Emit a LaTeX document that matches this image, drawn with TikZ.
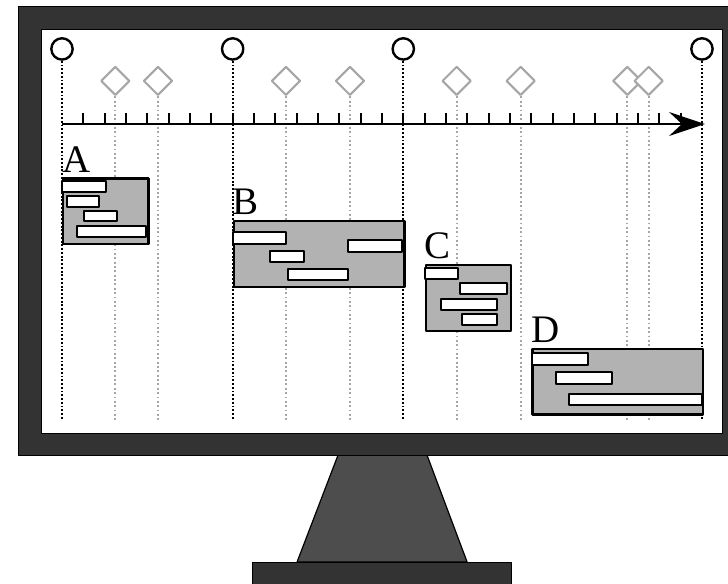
\documentclass[tikz,border=0pt]{standalone}
\usepackage{fontspec}
\setmainfont{Liberation Serif}
\usetikzlibrary{arrows.meta,shapes.geometric,positioning}
\definecolor{framegray}{HTML}{333333}
\definecolor{standgray}{HTML}{4D4D4D}

\begin{document}
\begin{tikzpicture}[x=0.5cm,y=0.5cm,line join=round,
  >={Stealth[length=0.84cm,width=0.56cm,inset=0.3cm]},
  milestone/.style={circle,draw,line width=1.6pt,fill=white,minimum size=0.5cm,inner sep=0},
  event/.style={diamond,draw=gray!70,line width=1.4pt,fill=white,minimum size=0.68cm,inner sep=0},
  keyline/.style={line width=1.4pt,dash pattern=on 1.2pt off 1.3pt},
  subline/.style={gray!70,line width=1.3pt,dash pattern=on 1.2pt off 1.7pt},
  phase/.style={draw,line width=1.5pt,fill=gray!60,anchor=north west,inner sep=0,minimum height=1.54cm},
  task/.style={draw,line width=1.4pt,fill=white},
  phasename/.style={font=\fontsize{26}{30}\selectfont,inner sep=0}]
\clip (-2.906,-21.52) rectangle (31.22,5.813);
\draw[fill=standgray,line width=0.8pt] (12.94,-15.52) -- (17.11,-15.52) -- (18.99,-20.53) -- (11.02,-20.53) -- cycle;
\draw[fill=framegray,line width=0.6pt] (8.95,-20.53) rectangle (21.05,-22);
\draw[fill=framegray,line width=0.6pt] (-2.02,-15.52) rectangle (32,5.53);
\draw[fill=white,line width=0.6pt] (-0.98,-14.49) rectangle (30.94,4.45);
\coordinate (floor) at (0,-13.88);
\node[milestone] (m0) at (0,3.52) {};
\node[milestone] (m8) at (8,3.52) {};
\node[milestone] (m16) at (16,3.52) {};
\node[milestone] (m30) at (30,3.52) {};
\node[event] (e1) at (2.5,2.02) {};
\node[event] (e2) at (4.5,2.02) {};
\node[event] (e3) at (10.5,2.02) {};
\node[event] (e4) at (13.5,2.02) {};
\node[event] (e5) at (18.5,2.02) {};
\node[event] (e6) at (21.5,2.02) {};
\node[event] (e7) at (26.5,2.02) {};
\node[event] (e8) at (27.5,2.02) {};
\foreach \e in {e1,e2,e3,e4,e5,e6,e7,e8}
  \draw[subline] (\e.south) -- (\e |- floor);
\foreach \m in {m0,m8,m16,m30}
  \draw[keyline] (\m.south) -- (\m |- floor);
\foreach \k in {1,...,29}
  \draw[line width=1.5pt] (\k,0) -- (\k,0.52);
\coordinate (t0) at (0,0);
\coordinate (t1) at (30.14,0);
\draw[->,line width=1.8pt] (t0) -- (t1);
\node[phase,minimum width=2cm] (pA) at (0,-2.5) {};
\node[phase,minimum width=4cm] (pB) at (8,-4.5) {};
\node[phase,minimum width=2cm] (pC) at (17,-6.56) {};
\node[phase,minimum width=4cm] (pD) at (22,-10.49) {};
\node[phasename,above right=0.11cm and 0cm of pA.north west] (lA) {A};
\node[phasename,above right=0.11cm and 0cm of pB.north west] (lB) {B};
\node[phasename,above right=0.11cm and 0cm of pC.north west] (lC) {C};
\node[phasename,above right=0.11cm and 0cm of pD.north west] (lD) {D};
\draw[task] (0,-2.66) rectangle (2.05,-3.17);
\draw[task] (0.22,-3.37) rectangle (1.73,-3.88);
\draw[task] (1.03,-4.06) rectangle (2.56,-4.56);
\draw[task] (0.72,-4.78) rectangle (3.94,-5.28);
\draw[task] (8.03,-5.06) rectangle (10.49,-5.61);
\draw[task] (9.75,-5.94) rectangle (11.36,-6.47);
\draw[task] (10.61,-6.81) rectangle (13.42,-7.33);
\draw[task] (13.42,-5.44) rectangle (15.95,-6);
\draw[task] (17,-6.77) rectangle (18.58,-7.27);
\draw[task] (18.66,-7.47) rectangle (20.88,-7.97);
\draw[task] (17.75,-8.22) rectangle (20.38,-8.73);
\draw[task] (18.75,-8.92) rectangle (20.38,-9.44);
\draw[task] (22.05,-10.75) rectangle (24.67,-11.28);
\draw[task] (23.14,-11.64) rectangle (25.77,-12.19);
\draw[task] (23.77,-12.66) rectangle (29.99,-13.19);
\end{tikzpicture}
\end{document}
